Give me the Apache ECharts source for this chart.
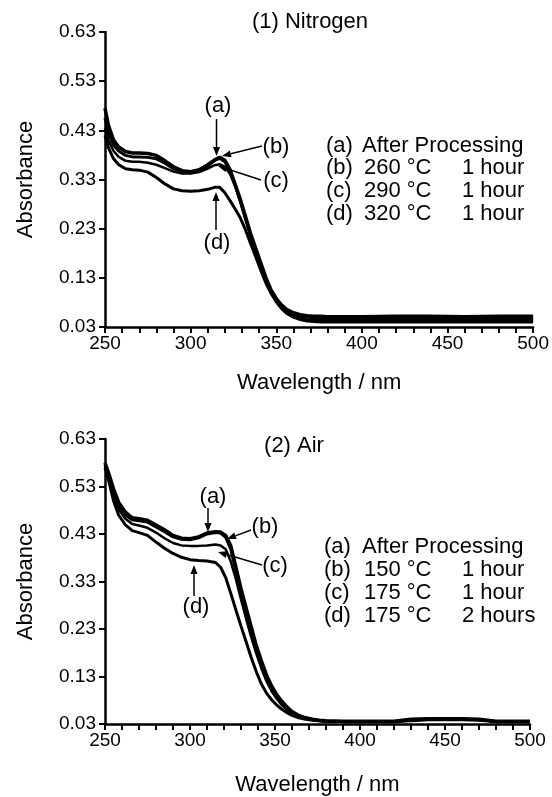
<!DOCTYPE html>
<html><head><meta charset="utf-8">
<script src="https://cdn.jsdelivr.net/npm/echarts@6/dist/echarts.min.js"></script>
<style>html,body{margin:0;padding:0;background:#fff}#c{width:552px;height:797px}</style>
</head><body><div id="c"></div>
<script>
// ---------- (1) Nitrogen ----------
const wlN = [250,252,255,258,262,266,270,275,280,285, 290,295,300,305,310,314,317,320,323,326, 329,332,335,338,341,344,347,350,353,356, 360,364,368,372,376,380,385,390,400,420, 440,460,480,500];
const nA = [0.455,0.425,0.4,0.388,0.379,0.376,0.376,0.375,0.372,0.363, 0.352,0.345,0.344,0.347,0.357,0.369,0.373,0.366,0.348,0.318, 0.285,0.25,0.215,0.183,0.153,0.125,0.101,0.084,0.071,0.062, 0.056,0.052,0.05,0.049,0.049,0.048,0.048,0.048,0.047,0.047, 0.047,0.048,0.048,0.048];
const nB = [0.475,0.44,0.41,0.396,0.387,0.384,0.384,0.383,0.379,0.368, 0.356,0.348,0.346,0.35,0.36,0.37,0.375,0.369,0.35,0.32, 0.29,0.255,0.22,0.19,0.16,0.13,0.105,0.088,0.075,0.066, 0.059,0.055,0.053,0.052,0.052,0.051,0.051,0.051,0.051,0.052, 0.052,0.051,0.052,0.052];
const nC = [0.435,0.41,0.388,0.376,0.368,0.366,0.366,0.364,0.36,0.353, 0.346,0.342,0.342,0.345,0.352,0.359,0.361,0.356,0.341,0.316, 0.286,0.252,0.218,0.185,0.153,0.124,0.1,0.082,0.068,0.058, 0.051,0.047,0.045,0.044,0.044,0.044,0.044,0.044,0.044,0.044, 0.044,0.044,0.044,0.044];
const nD = [0.42,0.395,0.372,0.36,0.352,0.35,0.349,0.345,0.334,0.321, 0.311,0.307,0.306,0.307,0.31,0.314,0.314,0.303,0.287,0.27, 0.252,0.228,0.2,0.173,0.145,0.119,0.098,0.081,0.068,0.058, 0.05,0.045,0.042,0.041,0.04,0.04,0.04,0.04,0.04,0.04, 0.04,0.04,0.04,0.04];

// ---------- (2) Air ----------
const wlA = [250,252,255,258,262,266,270,275,280,285, 290,295,300,305,310,315,318,321,324,327, 330,333,336,339,342,345,348,351,354,357, 360,364,368,372,376,380,390,400,420,430, 440,450,460,470,480,490,500];
const aA = [0.575,0.553,0.518,0.49,0.47,0.46,0.458,0.455,0.445,0.435, 0.424,0.419,0.418,0.422,0.43,0.433,0.432,0.423,0.398,0.352, 0.308,0.268,0.228,0.19,0.158,0.13,0.107,0.09,0.076,0.065, 0.055,0.047,0.042,0.039,0.037,0.036,0.035,0.035,0.035,0.038, 0.04,0.04,0.04,0.039,0.035,0.035,0.035];
const aB = [0.58,0.56,0.525,0.497,0.476,0.464,0.462,0.459,0.449,0.439, 0.427,0.421,0.42,0.424,0.432,0.435,0.434,0.427,0.405,0.36, 0.315,0.275,0.235,0.195,0.163,0.133,0.11,0.092,0.078,0.066, 0.056,0.048,0.043,0.04,0.038,0.037,0.036,0.036,0.036,0.04, 0.041,0.041,0.041,0.04,0.036,0.036,0.036];
const aC = [0.575,0.55,0.51,0.482,0.462,0.451,0.448,0.443,0.433,0.421, 0.411,0.406,0.405,0.405,0.406,0.408,0.406,0.398,0.372,0.335, 0.292,0.252,0.213,0.178,0.147,0.12,0.099,0.083,0.07,0.06, 0.052,0.046,0.041,0.039,0.037,0.036,0.035,0.035,0.035,0.038, 0.04,0.04,0.04,0.039,0.035,0.035,0.035];
const aD = [0.57,0.545,0.5,0.47,0.449,0.437,0.433,0.427,0.413,0.4, 0.389,0.381,0.376,0.374,0.373,0.37,0.36,0.338,0.305,0.27, 0.236,0.203,0.17,0.14,0.114,0.095,0.081,0.07,0.061,0.054, 0.048,0.043,0.04,0.038,0.037,0.036,0.035,0.035,0.035,0.037, 0.039,0.039,0.039,0.038,0.035,0.035,0.035];

const yTicks = {min: 0.03, max: 0.63, interval: 0.1};
const xTicks = {min: 250, max: 500, interval: 50};

const FONT = "'Liberation Sans', Arial, Helvetica, sans-serif";
const pair = (xs, ys) => xs.map((x, i) => [x, ys[i]]);

function xAx(gi, gap) {
  return {
    type: 'value', gridIndex: gi, min: xTicks.min, max: xTicks.max, interval: xTicks.interval,
    name: 'Wavelength / nm', nameLocation: 'middle', nameGap: gap,
    nameTextStyle: {fontSize: 22, color: '#000', fontFamily: FONT},
    axisLine: {show: true, onZero: false, lineStyle: {color: '#000', width: 2.5}},
    axisTick: {show: true, inside: false, length: 6, lineStyle: {color: '#000', width: 2}},
    minorTick: {show: true, splitNumber: 5, length: 6, lineStyle: {color: '#000', width: 2}},
    splitLine: {show: false}, minorSplitLine: {show: false},
    axisLabel: {fontSize: 19, color: '#000', fontFamily: FONT, margin: 7}
  };
}
function yAx(gi) {
  return {
    type: 'value', gridIndex: gi, min: yTicks.min, max: yTicks.max, interval: yTicks.interval,
    name: 'Absorbance', nameLocation: 'middle', nameGap: 68,
    nameTextStyle: {fontSize: 22, color: '#000', fontFamily: FONT},
    axisLine: {show: true, onZero: false, lineStyle: {color: '#000', width: 2.5}},
    axisTick: {show: true, inside: false, length: 6, lineStyle: {color: '#000', width: 2}},
    splitLine: {show: false},
    axisLabel: {fontSize: 19, color: '#000', fontFamily: FONT, margin: 9,
      formatter: v => v.toFixed(2)}
  };
}
function ser(name, gi, xs, ys, w) {
  return {
    name, type: 'line', xAxisIndex: gi, yAxisIndex: gi, data: pair(xs, ys),
    showSymbol: false, symbol: 'none', smooth: false,
    lineStyle: {color: '#000', width: w}, animation: false
  };
}
function txt(x, y, s, size, align) {
  return {type: 'text', x, y, style: {text: s, fontSize: size || 22, fontFamily: FONT,
    fill: '#000', align: align || 'center', verticalAlign: 'middle'}};
}
function arrow(x1, y1, x2, y2) {
  const dx = x2 - x1, dy = y2 - y1, L = Math.hypot(dx, dy);
  const ux = dx / L, uy = dy / L, hl = 9, hw = 3.5;
  const bx = x2 - ux * hl, by = y2 - uy * hl;
  return [
    {type: 'line', shape: {x1, y1, x2: bx, y2: by}, style: {stroke: '#000', lineWidth: 1.5}},
    {type: 'polygon', shape: {points: [[x2, y2], [bx - uy * hw, by + ux * hw], [bx + uy * hw, by - ux * hw]]},
     style: {fill: '#000'}}
  ];
}

const graphics = [
  txt(310, 22, '(1) Nitrogen'),
  txt(294, 446, '(2) Air'),
  // legend-like block, top
  txt(326, 146, '(a)', 22, 'left'), txt(362, 146, 'After Processing', 22, 'left'),
  txt(326, 168, '(b)', 22, 'left'), txt(364, 168, '260 °C', 22, 'left'), txt(462, 168, '1 hour', 22, 'left'),
  txt(326, 191, '(c)', 22, 'left'), txt(364, 191, '290 °C', 22, 'left'), txt(462, 191, '1 hour', 22, 'left'),
  txt(326, 214, '(d)', 22, 'left'), txt(364, 214, '320 °C', 22, 'left'), txt(462, 214, '1 hour', 22, 'left'),
  // legend-like block, bottom
  txt(324, 547, '(a)', 22, 'left'), txt(362, 547, 'After Processing', 22, 'left'),
  txt(324, 570, '(b)', 22, 'left'), txt(364, 570, '150 °C', 22, 'left'), txt(462, 570, '1 hour', 22, 'left'),
  txt(324, 593, '(c)', 22, 'left'), txt(364, 593, '175 °C', 22, 'left'), txt(462, 593, '1 hour', 22, 'left'),
  txt(324, 616, '(d)', 22, 'left'), txt(364, 616, '175 °C', 22, 'left'), txt(462, 616, '2 hours', 22, 'left'),
  // annotations top
  txt(218, 106, '(a)'), ...arrow(216.5, 119, 216.5, 156),
  txt(276, 147, '(b)'), ...arrow(262, 146, 222, 156),
  txt(276, 181, '(c)'), ...arrow(261, 180, 218, 166),
  txt(217, 243, '(d)'), ...arrow(216, 230, 216, 192),
  // annotations bottom
  txt(213, 497, '(a)'), ...arrow(208, 508, 208, 532),
  txt(265, 527, '(b)'), ...arrow(251, 530, 227, 539),
  txt(275, 566, '(c)'), ...arrow(262, 565, 218, 552),
  txt(196, 607, '(d)'), ...arrow(194, 596, 194, 565)
];

const option = {
  backgroundColor: '#fff',
  animation: false,
  grid: [
    {left: 105, top: 32, width: 430, height: 295},
    {left: 105, top: 439, width: 425, height: 291}
  ],
  xAxis: [xAx(0, 45), xAx(1, 50)],
  yAxis: [yAx(0), yAx(1)],
  series: [
    ser('N (a)', 0, wlN, nA, 3), ser('N (b)', 0, wlN, nB, 3.5), ser('N (c)', 0, wlN, nC, 2.5), ser('N (d)', 0, wlN, nD, 3),
    ser('Air (a)', 1, wlA, aA, 3), ser('Air (b)', 1, wlA, aB, 3.5), ser('Air (c)', 1, wlA, aC, 2.5), ser('Air (d)', 1, wlA, aD, 3)
  ],
  graphic: graphics
};
const chart = echarts.init(document.getElementById('c'), null, {renderer: 'canvas'});
chart.setOption(option);
</script></body></html>
